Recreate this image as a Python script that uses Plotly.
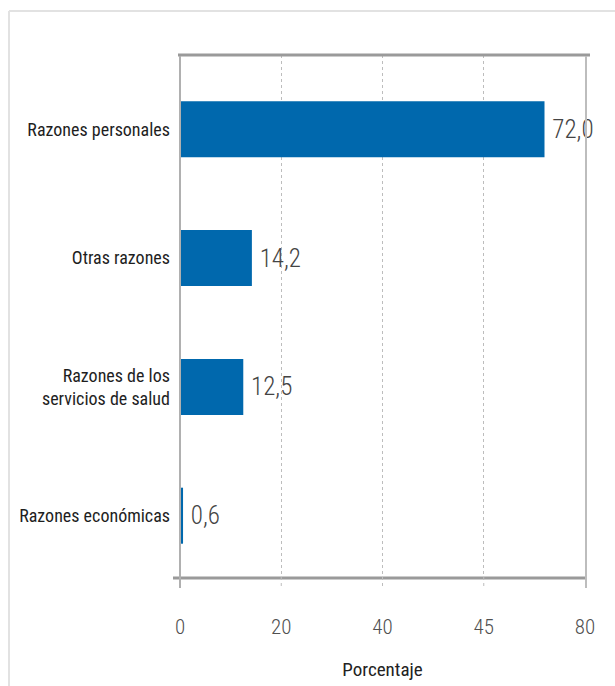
import plotly.graph_objects as go

# Motivos (porcentaje)
categorias = ["Razones personales", "Otras razones",
              "Razones de los<br>servicios de salud", "Razones económicas"]
valores = [72.0, 14.2, 12.5, 0.6]

# Marcas del eje horizontal y sus rótulos
marcas_x = [0, 20, 40, 60, 80]
rotulos_x = ["0", "20", "40", "45", "80"]

FUENTE = "Roboto Condensed, DejaVu Sans Condensed, sans-serif"
AZUL = "#0068ad"

# rótulos con coma decimal y un pequeño espacio respecto a la barra
textos = ["\u2009" + f"{v:.1f}".replace(".", ",") for v in valores]

fig = go.Figure(go.Bar(
    x=valores,
    y=categorias,
    orientation="h",
    marker=dict(color=AZUL, line=dict(width=0)),
    width=0.435,
    text=textos,
    textposition="outside",
    textfont=dict(family=FUENTE, size=25, color="#444444", weight=300),
    constraintext="none",
    cliponaxis=False,
    hoverinfo="skip",
))

# Posiciones del área de trazado en píxeles
L, R, T, B = 180, 585, 55, 577
W, H = R - L, B - T


def px(xp):
    return (xp - L) / W


def py(yp):
    return (B - yp) / H


linea_gris = "#9a9a9a"
formas = [
    # marco exterior
    dict(type="line", xref="paper", yref="paper", x0=px(9), x1=px(640),
         y0=py(11), y1=py(11), line=dict(color="#e2e2e2", width=2)),
    dict(type="line", xref="paper", yref="paper", x0=px(9), x1=px(9),
         y0=py(11), y1=py(700), line=dict(color="#e2e2e2", width=2)),
    # borde superior grueso
    dict(type="line", xref="paper", yref="paper", x0=px(178), x1=px(590),
         y0=py(55), y1=py(55), line=dict(color=linea_gris, width=3)),
    # eje inferior grueso
    dict(type="line", xref="paper", yref="paper", x0=px(173), x1=px(587),
         y0=py(578), y1=py(578), line=dict(color=linea_gris, width=3)),
    # eje izquierdo
    dict(type="line", xref="paper", yref="paper", x0=0, x1=0,
         y0=py(56), y1=py(588), line=dict(color="#b0b0b0", width=2)),
    # borde derecho
    dict(type="line", xref="paper", yref="paper", x0=px(586), x1=px(586),
         y0=py(56), y1=py(588), line=dict(color="#bdbdbd", width=2)),
]
# prolongación punteada de la cuadrícula bajo el eje
for m in marcas_x[1:-1]:
    formas.append(dict(type="line", xref="x", yref="paper", x0=m, x1=m,
                       y0=0, y1=py(588),
                       line=dict(color="#bdbdbd", width=1, dash="dot")))

fig.update_layout(
    width=615, height=686,
    margin=dict(l=L, r=615 - R, t=T, b=686 - B),
    paper_bgcolor="white", plot_bgcolor="white",
    showlegend=False,
    font=dict(family=FUENTE, color="#222222"),
    shapes=formas,
    xaxis=dict(
        range=[0, 80], automargin=False,
        tickmode="array", tickvals=marcas_x, ticktext=rotulos_x,
        tickfont=dict(family=FUENTE, size=21, color="#505050", weight=300),
        ticks="", ticklabelstandoff=35,
        showgrid=True, gridcolor="#bdbdbd", griddash="dot", gridwidth=1,
        zeroline=False, showline=False,
        title=dict(text="Porcentaje", standoff=24,
                   font=dict(family=FUENTE, size=19, color="#222222")),
        fixedrange=True,
    ),
    yaxis=dict(
        automargin=False,
        categoryorder="array", categoryarray=categorias[::-1],
        range=[-0.476, 3.577],
        tickfont=dict(family=FUENTE, size=18, color="#1e1e1e"),
        ticks="", ticklabelstandoff=9,
        showgrid=False, zeroline=False, showline=False,
        fixedrange=True,
    ),
)

fig.write_html("out.html")
